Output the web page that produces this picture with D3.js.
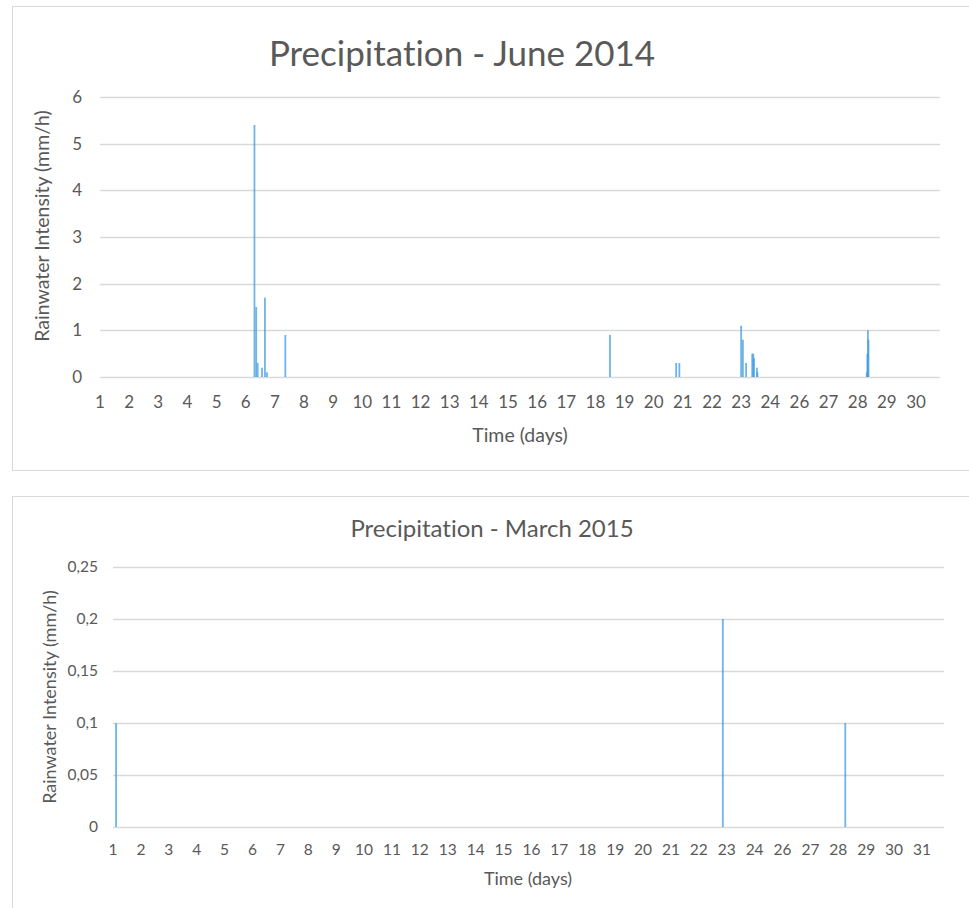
<!DOCTYPE html>
<html>
<head>
<meta charset="utf-8">
<script src="https://cdn.jsdelivr.net/npm/d3@7"></script>
<style>
  body { margin: 0; background: #fff; }
  text { font-family: Lato, "Open Sans", sans-serif; fill: #595959; font-variant-ligatures: none; }
</style>
</head>
<body>
<svg id="chart" width="969" height="908"></svg>
<script>
// June 2014 - tick labels (Excel skipped 25) and spikes
var juneDays = [1, 2, 3, 4, 5, 6, 7, 8, 9, 10, 11, 12, 13, 14, 15, 16, 17, 18, 19, 20, 21, 22, 23, 24, 26, 27, 28, 29, 30];
var juneTimes = [6.30, 6.36, 6.41, 6.56, 6.66, 6.73, 7.36, 18.5, 20.77, 20.88,
                 23.0, 23.06, 23.17, 23.38, 23.42, 23.44, 23.54, 23.56,
                 28.31, 28.33, 28.35, 28.37];
var juneRain = [5.4, 1.5, 0.3, 0.2, 1.7, 0.1, 0.9, 0.9, 0.3, 0.3,
                1.1, 0.8, 0.3, 0.5, 0.5, 0.4, 0.2, 0.1,
                0.1, 0.5, 1.0, 0.8];
var juneYTicks = [0, 1, 2, 3, 4, 5, 6];

// March 2015
var marchDays = [1, 2, 3, 4, 5, 6, 7, 8, 9, 10, 11, 12, 13, 14, 15, 16, 17, 18, 19, 20, 21, 22, 23, 24, 26, 27, 28, 29, 30, 31];
var marchTimes = [1.11, 22.86, 28.25];
var marchRain = [0.1, 0.2, 0.1];
var marchYTicks = [0, 0.05, 0.1, 0.15, 0.2, 0.25];

var svg = d3.select("#chart");
var fmtComma = function (v) { return String(v).replace(".", ","); };

// panel frames
svg.append("rect").attr("x", 12.5).attr("y", 6.5).attr("width", 970).attr("height", 464)
    .attr("fill", "none").attr("stroke", "#d9d9d9");
svg.append("rect").attr("x", 12.5).attr("y", 496.5).attr("width", 970).attr("height", 430)
    .attr("fill", "none").attr("stroke", "#d9d9d9");

function drawChart(cfg) {
    var g, x, y, n, step, labelPos;
    g = svg.append("g");
    n = cfg.days.length;
    step = (cfg.lastLabel - cfg.left) / (n - 1);
    labelPos = d3.range(n).map(function (i) { return cfg.left + i * step; });
    // polylinear: each day label is an anchor, so the missing 25 is handled
    x = d3.scaleLinear().domain(cfg.days).range(labelPos);
    y = d3.scaleLinear().domain([0, cfg.yMax]).range([cfg.bottom, cfg.top]);

    // gridlines
    g.selectAll(".grid").data(cfg.yTicks).enter().append("line")
        .attr("x1", cfg.left).attr("x2", cfg.right)
        .attr("y1", function (d) { return Math.round(y(d)) + 0.5; })
        .attr("y2", function (d) { return Math.round(y(d)) + 0.5; })
        .attr("stroke", "#d9d9d9").attr("stroke-width", 1.3);

    // y tick labels
    g.selectAll(".ylab").data(cfg.yTicks).enter().append("text")
        .attr("x", cfg.left - cfg.yGap).attr("y", function (d) { return y(d); })
        .attr("dy", "0.35em").attr("text-anchor", "end")
        .style("font-size", cfg.tickSize + "px")
        .text(cfg.yFmt);

    // x tick labels
    g.selectAll(".xlab").data(cfg.days).enter().append("text")
        .attr("x", function (d) { return x(d); }).attr("y", cfg.xLabY)
        .attr("dy", "0.35em").attr("text-anchor", "middle")
        .style("font-size", cfg.tickSize + "px")
        .text(function (d) { return d; });

    // rain spikes
    g.selectAll(".spike").data(cfg.times).enter().append("line")
        .attr("x1", function (d) { return x(d); }).attr("x2", function (d) { return x(d); })
        .attr("y1", y(0)).attr("y2", function (d, i) { return y(cfg.values[i]); })
        .attr("stroke", "#3d9be0").attr("stroke-opacity", 0.75).attr("stroke-width", 1.8);

    // titles
    g.append("text").attr("x", cfg.titleX).attr("y", cfg.titleY).attr("text-anchor", "middle")
        .style("font-size", cfg.titleSize + "px").text(cfg.title);
    g.append("text").attr("x", cfg.xTitleX).attr("y", cfg.xTitleY).attr("text-anchor", "middle")
        .attr("dy", "0.35em").style("font-size", cfg.axisTitleSize + "px").text("Time (days)");
    g.append("text")
        .attr("transform", "translate(" + cfg.yTitleX + "," + cfg.yTitleY + ") rotate(-90)")
        .attr("text-anchor", "middle").attr("dy", "0.35em")
        .style("font-size", cfg.axisTitleSize + "px").text("Rainwater Intensity (mm/h)");
}

drawChart({
    days: juneDays, times: juneTimes, values: juneRain, yTicks: juneYTicks, yMax: 6,
    left: 100, right: 940, lastLabel: 916, top: 97, bottom: 377,
    yGap: 18, yFmt: function (d) { return d; }, tickSize: 17, xLabY: 402,
    title: "Precipitation - June 2014", titleX: 462, titleY: 66, titleSize: 35,
    xTitleX: 520, xTitleY: 435, axisTitleSize: 19.5,
    yTitleX: 42, yTitleY: 226
});

drawChart({
    days: marchDays, times: marchTimes, values: marchRain, yTicks: marchYTicks, yMax: 0.25,
    left: 113, right: 944, lastLabel: 922, top: 567, bottom: 827,
    yGap: 15, yFmt: fmtComma, tickSize: 15.5, xLabY: 850,
    title: "Precipitation - March 2015", titleX: 492, titleY: 537, titleSize: 24,
    xTitleX: 528, xTitleY: 879, axisTitleSize: 18,
    yTitleX: 50, yTitleY: 697
});
</script>
</body>
</html>
